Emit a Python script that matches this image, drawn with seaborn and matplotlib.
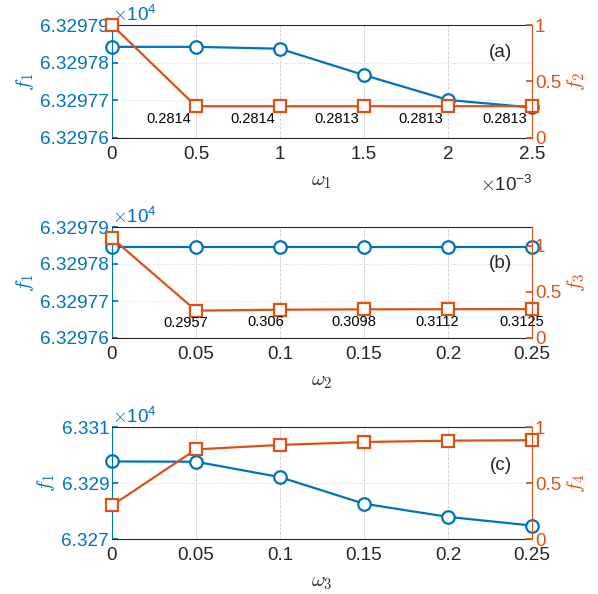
import numpy as np
import pandas as pd
import matplotlib
matplotlib.use('Agg')
import matplotlib.pyplot as plt
import seaborn as sns

# --- data ---
w1 = [0, 0.5e-3, 1.0e-3, 1.5e-3, 2.0e-3, 2.5e-3]
w2 = [0, 0.05, 0.10, 0.15, 0.20, 0.25]
w3 = [0, 0.05, 0.10, 0.15, 0.20, 0.25]

f1_a = [63297.842, 63297.842, 63297.837, 63297.767, 63297.701, 63297.681]
f2 = [1.0, 0.2814, 0.2814, 0.2813, 0.2813, 0.2813]

f1_b = [63297.846, 63297.846, 63297.846, 63297.846, 63297.846, 63297.846]
f3 = [1.08, 0.2957, 0.306, 0.3098, 0.3112, 0.3125]

f1_c = [63297.7, 63297.6, 63292.1, 63282.6, 63277.9, 63274.8]
f4 = [0.30, 0.80, 0.84, 0.866, 0.878, 0.882]

x_ticks_a = [0, 0.5e-3, 1.0e-3, 1.5e-3, 2.0e-3, 2.5e-3]
x_ticklabels_a = ['0', '0.5', '1', '1.5', '2', '2.5']
x_ticks_bc = [0, 0.05, 0.1, 0.15, 0.2, 0.25]
x_ticklabels_bc = ['0', '0.05', '0.1', '0.15', '0.2', '0.25']

y_ticks_ab = [63297.6, 63297.7, 63297.8, 63297.9]
y_ticks_c = [63270, 63290, 63310]

sns.set_theme(style='white')
plt.rcParams['font.family'] = ['Liberation Sans', 'DejaVu Sans']
plt.rcParams['mathtext.fontset'] = 'cm'

BLUE = '#0072BD'
ORANGE = '#D95319'
DARK = '#262626'
TICK_FS = 13.6
LAB_FS = 15

fig = plt.figure(figsize=(5.98, 5.94), dpi=100)
W, H = 598, 594


def make_axes(top, bottom):
    return fig.add_axes([112 / W, 1 - bottom / H, 420 / W, (bottom - top) / H])


def panel(ax, x, yl, yr, xt, xtl, yt, ylim, r_lim, lab_l, lab_r, xlab, tag,
          dx_px, x_sci=False, yfmt='%.5f'):
    df = pd.DataFrame({'x': x, 'yl': yl, 'yr': yr})
    sns.lineplot(data=df, x='x', y='yl', ax=ax, color=BLUE, lw=1.6,
                 marker='o', markersize=9, markerfacecolor='white',
                 markeredgecolor=BLUE, markeredgewidth=1.6, clip_on=False)
    ax.set_xlim(xt[0], xt[-1])
    ax.set_ylim(*ylim)
    ax.set_xticks(xt)
    ax.set_xticklabels(xtl)
    ax.set_yticks(yt)
    ax.set_yticklabels([yfmt % (v / 1e4) for v in yt])
    ax.tick_params(axis='x', colors=DARK, labelsize=TICK_FS, direction='in', length=4, pad=6)
    ax.tick_params(axis='y', colors=BLUE, labelsize=TICK_FS, direction='in', length=4, pad=2)
    ax.grid(True, axis='x', ls='--', lw=0.6, color='#cccccc')
    ax.grid(True, axis='y', ls='--', lw=0.6, color='#d6e6f2')
    ax.set_xlabel(xlab, fontsize=LAB_FS, color=DARK, labelpad=6)
    ax.set_ylabel(lab_l, fontsize=LAB_FS, color=BLUE, labelpad=3)
    for s in ['top', 'bottom']:
        ax.spines[s].set_color(DARK)
        ax.spines[s].set_linewidth(0.8)
    ax.spines['left'].set_color(BLUE)
    ax.spines['left'].set_linewidth(0.8)
    ax.spines['right'].set_visible(False)
    ax.text(0, 1.0, r'$\times\mathregular{10^{4}}$', transform=ax.transAxes, color=BLUE,
            fontsize=TICK_FS, ha='left', va='bottom')
    if x_sci:
        ax.text(1.0, -0.33, r'$\times\mathregular{10^{-3}}$', transform=ax.transAxes,
                color=DARK, fontsize=TICK_FS, ha='right', va='top')

    ax2 = ax.twinx()
    sns.lineplot(data=df, x='x', y='yr', ax=ax2, color=ORANGE, lw=1.6,
                 marker='s', markersize=8, markerfacecolor='white',
                 markeredgecolor=ORANGE, markeredgewidth=1.6, clip_on=False)
    ax2.set_ylim(*r_lim)
    ax2.set_yticks([0, 0.5, 1])
    ax2.set_yticklabels(['0', '0.5', '1'])
    ax2.tick_params(axis='y', colors=ORANGE, labelsize=TICK_FS, direction='in', length=4, pad=2)
    for s in ['left', 'top', 'bottom']:
        ax2.spines[s].set_visible(False)
    ax2.spines['right'].set_color(ORANGE)
    ax2.spines['right'].set_linewidth(0.8)
    ax2.set_ylabel(lab_r, fontsize=LAB_FS, color=ORANGE, labelpad=3)
    ax2.set_xlabel('')

    if tag is not None:
        for xi, yi in zip(x[1:], yr[1:]):
            ax2.annotate(f'{yi:g}', (xi, yi), xytext=(dx_px * 0.72, -9.2),
                         textcoords='offset points', ha='left', va='center',
                         fontsize=10.5, color='black')
    return ax2


ax_a = make_axes(25, 138)
panel(ax_a, w1, f1_a, f2, x_ticks_a, x_ticklabels_a, y_ticks_ab,
      (63297.6, 63297.9), (0, 1), r'$f_1$', r'$f_2$', r'$\omega_1$', 'a',
      -50, x_sci=True)
ax_a.text(0.925, 0.76, '(a)', transform=ax_a.transAxes, fontsize=TICK_FS, ha='center', va='center')

ax_b = make_axes(227, 338)
panel(ax_b, w2, f1_b, f3, x_ticks_bc, x_ticklabels_bc, y_ticks_ab,
      (63297.6, 63297.9), (0, 1.2), r'$f_1$', r'$f_3$', r'$\omega_2$', 'b', -33)
ax_b.text(0.925, 0.67, '(b)', transform=ax_b.transAxes, fontsize=TICK_FS, ha='center', va='center')

ax_c = make_axes(427, 539)
panel(ax_c, w3, f1_c, f4, x_ticks_bc, x_ticklabels_bc, y_ticks_c,
      (63270, 63310), (0, 1), r'$f_1$', r'$f_4$', r'$\omega_3$', None, 0,
      yfmt='%.3f')
ax_c.text(0.925, 0.66, '(c)', transform=ax_c.transAxes, fontsize=TICK_FS, ha='center', va='center')

fig.savefig('out.png', dpi=100)
